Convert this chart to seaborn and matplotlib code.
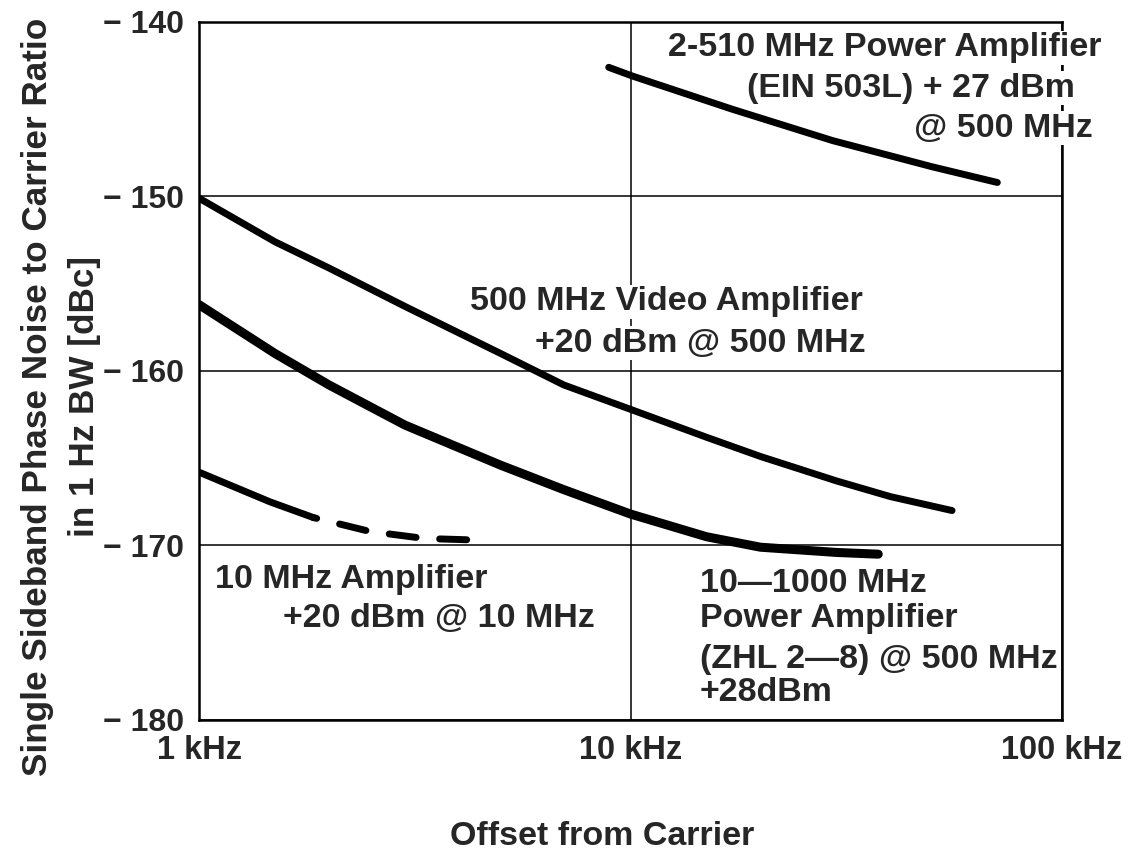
import matplotlib
matplotlib.use("Agg")
import matplotlib.pyplot as plt
import seaborn as sns

# values (offset in kHz, noise in dBc/Hz)
pa2510_khz = [8.9, 10.1, 17.2, 29.4, 50.0, 70.8]
pa2510_dbc = [-142.6, -143.1, -145.0, -146.8, -148.3, -149.2]

video_khz = [1.0, 1.5, 2.0, 3.0, 5.0, 7.0, 10.0, 15.0, 20.0, 30.0, 40.0, 55.6]
video_dbc = [-150.1, -152.6, -154.1, -156.3, -159.0, -160.8, -162.2, -163.8, -164.9, -166.3, -167.2, -168.0]

zhl_khz = [1.0, 1.5, 2.0, 3.0, 5.0, 7.0, 10.0, 15.0, 20.0, 30.0, 37.5]
zhl_dbc = [-156.2, -159.0, -160.8, -163.1, -165.4, -166.8, -168.2, -169.5, -170.1, -170.4, -170.5]

amp10_solid_khz = [1.0, 1.46, 1.84]
amp10_solid_dbc = [-165.8, -167.5, -168.4]
amp10_dash_khz = [1.84, 2.49, 3.33, 4.54]
amp10_dash_dbc = [-168.4, -169.2, -169.6, -169.7]

x_ticks = [1, 10, 100]
x_ticklabels = ["1 kHz", "10 kHz", "100 kHz"]
y_ticks = [-180, -170, -160, -150, -140]
y_ticklabels = ["\u2212 180", "\u2212 170", "\u2212 160", "\u2212 150", "\u2212 140"]

sns.set_style("white")
plt.rcParams['font.family'] = ['Liberation Sans', 'DejaVu Sans']
plt.rcParams['font.weight'] = 'bold'

fig = plt.figure(figsize=(11.36, 8.57), dpi=100)
ax = fig.add_axes([0.1752, 0.1599, 0.7597, 0.8145])

sns.lineplot(x=pa2510_khz, y=pa2510_dbc, ax=ax, color='black', lw=5,
             solid_capstyle='round', estimator=None, sort=False)
sns.lineplot(x=video_khz, y=video_dbc, ax=ax, color='black', lw=5,
             solid_capstyle='round', solid_joinstyle='round', estimator=None, sort=False)
sns.lineplot(x=zhl_khz, y=zhl_dbc, ax=ax, color='black', lw=6.5,
             solid_capstyle='round', solid_joinstyle='round', estimator=None, sort=False)
sns.lineplot(x=amp10_solid_khz, y=amp10_solid_dbc, ax=ax, color='black', lw=5,
             solid_capstyle='round', estimator=None, sort=False)
sns.lineplot(x=amp10_dash_khz, y=amp10_dash_dbc, ax=ax, color='black', lw=5,
             linestyle=(3.4, (3.9, 3.4)), dash_capstyle='round',
             estimator=None, sort=False)

ax.set_xscale('log')
ax.set_xlim(1, 100)
ax.set_ylim(-180, -140)
ax.set_xticks(x_ticks)
ax.set_xticklabels(x_ticklabels)
ax.set_yticks(y_ticks)
ax.set_yticklabels(y_ticklabels)
ax.minorticks_off()
ax.tick_params(axis='x', length=0, pad=11, labelsize=23.5)
ax.tick_params(axis='y', length=0, pad=11, labelsize=23)
ax.set_xlabel('')
ax.set_ylabel('')

ax.grid(True, color='black', lw=1.1)
ax.set_axisbelow(True)
for s in ax.spines.values():
    s.set_color('black')
    s.set_linewidth(1.8)

# curve labels
fs = 24.5
wbox = dict(facecolor='white', edgecolor='none', pad=1)
ax.text(1.046, 0.963, '2-510 MHz Power Amplifier', transform=ax.transAxes,
        ha='right', va='center', fontsize=fs, bbox=wbox, clip_on=False)
ax.text(1.015, 0.905, '(EIN 503L) + 27 dBm', transform=ax.transAxes,
        ha='right', va='center', fontsize=fs, bbox=wbox, clip_on=False)
ax.text(1.036, 0.848, '@ 500 MHz', transform=ax.transAxes,
        ha='right', va='center', fontsize=fs, bbox=wbox, clip_on=False)

ax.text(0.314, 0.599, '500 MHz Video Amplifier', transform=ax.transAxes,
        ha='left', va='center', fontsize=fs, bbox=wbox)
ax.text(0.389, 0.540, '+20 dBm @ 500 MHz', transform=ax.transAxes,
        ha='left', va='center', fontsize=fs, bbox=wbox)

ax.text(0.0185, 0.2006, '10 MHz Amplifier', transform=ax.transAxes,
        ha='left', va='center', fontsize=fs)
ax.text(0.0973, 0.146, '+20 dBm @ 10 MHz', transform=ax.transAxes,
        ha='left', va='center', fontsize=fs)

ax.text(0.5805, 0.196, '10\u20141000 MHz', transform=ax.transAxes,
        ha='left', va='center', fontsize=fs)
ax.text(0.5805, 0.146, 'Power Amplifier', transform=ax.transAxes,
        ha='left', va='center', fontsize=fs)
ax.text(0.5805, 0.086, '(ZHL 2\u20148) @ 500 MHz', transform=ax.transAxes,
        ha='left', va='center', fontsize=fs)
ax.text(0.5805, 0.0387, '+28dBm', transform=ax.transAxes,
        ha='left', va='center', fontsize=fs)

fig.text(0.0537, 0.537, 'Single Sideband Phase Noise to Carrier Ratio\nin 1 Hz BW [dBc]',
         rotation=90, ha='center', va='center', multialignment='center',
         fontsize=25.3, linespacing=1.54)
fig.text(0.530, 0.024, 'Offset from Carrier', ha='center', va='center', fontsize=24.5)

fig.savefig('out.png', dpi=100)
